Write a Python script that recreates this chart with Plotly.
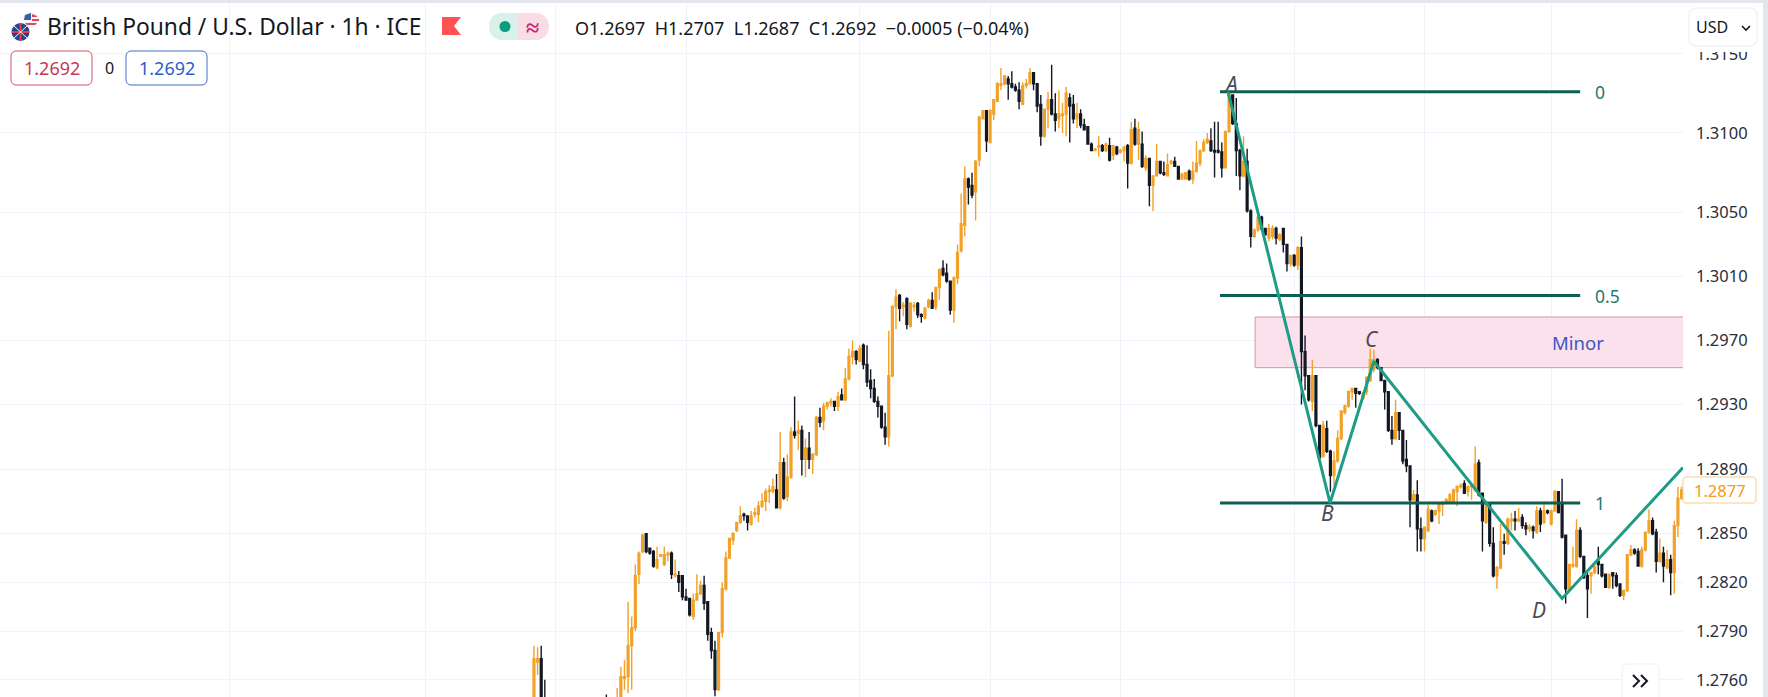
import math
import plotly.graph_objects as go

_ = None
opens = [
 1.2742,1.2771,1.2773,1.2748,_,_,_,_,_,_,_,_,_,_,_,_,_,_,_,_,1.2748,_,_,1.2742,1.2748,1.2761,1.2762,1.2781,1.2792,1.2825,
 1.2839,1.2850,1.2841,1.2839,1.2829,1.2836,1.2831,1.2837,1.2838,1.2824,
 1.2824,1.2824,1.2811,1.2810,1.2799,1.2809,1.2813,1.2818,1.2808,1.2789,
 1.2778,1.2754,1.2789,1.2816,1.2835,1.2846,1.2852,1.2857,1.2862,1.2861,
 1.2856,1.2862,1.2862,1.2867,1.2870,1.2876,1.2876,1.2877,1.2866,1.2894,
 1.2873,1.2885,1.2913,1.2912,1.2914,1.2896,1.2903,1.2896,1.2899,1.2922,
 1.2920,1.2929,1.2931,1.2932,1.2929,1.2936,1.2933,1.2946,1.2960,1.2963,
 1.2957,1.2967,1.2955,1.2945,1.2940,1.2932,1.2929,1.2916,1.2910,1.2948,
 1.2991,1.2998,1.2991,1.2996,1.2979,1.2991,1.2993,1.2986,1.2984,1.2991,
 1.2995,1.2991,1.3003,1.3015,1.3012,1.3007,1.2989,1.3009,1.3026,1.3042,
 1.3071,1.3067,1.3063,1.3083,1.3109,1.3114,1.3094,1.3112,1.3120,1.3130,
 1.3131,1.3134,1.3131,1.3129,1.3127,1.3118,1.3130,1.3131,1.3138,1.3131,
 1.3118,1.3098,1.3115,1.3121,1.3112,1.3109,1.3111,1.3112,1.3122,1.3118,
 1.3109,1.3112,1.3105,1.3104,1.3093,1.3089,1.3091,1.3092,1.3089,1.3092,
 1.3086,1.3091,1.3088,1.3089,1.3092,1.3081,1.3103,1.3093,1.3093,1.3078,
 1.3084,1.3067,1.3073,1.3082,1.3075,1.3073,1.3081,1.3082,1.3079,1.3071,
 1.3071,1.3076,1.3071,1.3076,1.3081,1.3089,1.3094,1.3095,1.3089,1.3089,
 1.3088,1.3078,1.3101,1.3124,1.3106,1.3089,1.3073,1.3082,1.3051,1.3035,
 1.3039,1.3047,1.3040,1.3034,1.3035,1.3040,1.3033,1.3040,1.3030,1.3018,
 1.3023,1.3017,1.3028,1.2963,1.2948,1.2932,1.2948,1.2917,1.2898,1.2915,
 1.2901,1.2886,1.2895,1.2909,1.2925,1.2929,1.2938,1.2940,1.2938,1.2934,
 1.2938,1.2945,1.2952,1.2958,1.2953,1.2945,1.2938,1.2914,1.2909,1.2925,
 1.2914,1.2896,1.2892,1.2871,1.2874,1.2853,1.2847,1.2852,1.2864,1.2862,
 1.2864,1.2868,1.2869,1.2870,1.2870,1.2876,1.2879,1.2881,1.2876,1.2879,
 1.2877,1.2894,1.2875,1.2857,1.2869,1.2844,1.2824,1.2829,1.2845,1.2844,
 1.2858,1.2859,1.2858,1.2860,1.2855,1.2853,1.2854,1.2851,1.2864,1.2857,
 1.2864,1.2856,1.2864,1.2876,1.2869,1.2849,1.2816,1.2830,1.2830,1.2852,
 1.2836,1.2824,1.2824,1.2826,1.2833,1.2831,1.2825,1.2817,1.2826,1.2824,
 1.2819,1.2812,1.2815,1.2837,1.2840,1.2839,1.2830,1.2840,1.2851,1.2858,
 1.2851,1.2833,1.2838,1.2829,1.2834,1.2826,1.2855,1.2872,
]
highs = [
 1.2781,1.2780,1.2781,1.2760,_,_,_,_,_,_,_,_,_,_,_,_,_,_,_,_,1.2751,_,_,1.2755,1.2768,1.2772,1.2808,1.2799,1.2831,1.2839,
 1.2850,1.2850,1.2841,1.2840,1.2842,1.2837,1.2842,1.2839,1.2839,1.2834,
 1.2827,1.2824,1.2816,1.2810,1.2813,1.2825,1.2821,1.2824,1.2808,1.2792,
 1.2784,1.2789,1.2820,1.2839,1.2847,1.2851,1.2857,1.2867,1.2863,1.2861,
 1.2864,1.2866,1.2870,1.2875,1.2878,1.2880,1.2884,1.2887,1.2913,1.2897,
 1.2899,1.2916,1.2935,1.2920,1.2917,1.2909,1.2913,1.2900,1.2923,1.2928,
 1.2931,1.2932,1.2934,1.2932,1.2938,1.2940,1.2953,1.2965,1.2970,1.2964,
 1.2967,1.2968,1.2967,1.2952,1.2946,1.2935,1.2929,1.2925,1.2976,1.2992,
 1.3002,1.2999,1.2994,1.2997,1.2994,1.2994,1.2994,1.2987,1.2991,1.2996,
 1.3000,1.3003,1.3015,1.3020,1.3018,1.3007,1.3010,1.3030,1.3062,1.3079,
 1.3072,1.3075,1.3083,1.3111,1.3114,1.3114,1.3115,1.3121,1.3132,1.3141,
 1.3136,1.3136,1.3139,1.3131,1.3132,1.3132,1.3134,1.3141,1.3138,1.3131,
 1.3124,1.3115,1.3126,1.3143,1.3125,1.3127,1.3119,1.3129,1.3125,1.3124,
 1.3119,1.3115,1.3109,1.3104,1.3094,1.3090,1.3098,1.3093,1.3094,1.3097,
 1.3092,1.3092,1.3090,1.3092,1.3093,1.3107,1.3109,1.3107,1.3101,1.3086,
 1.3084,1.3073,1.3093,1.3082,1.3082,1.3087,1.3083,1.3085,1.3079,1.3075,
 1.3075,1.3077,1.3082,1.3095,1.3089,1.3096,1.3100,1.3103,1.3107,1.3107,
 1.3094,1.3101,1.3126,1.3124,1.3122,1.3090,1.3098,1.3090,1.3052,1.3040,
 1.3049,1.3048,1.3040,1.3043,1.3042,1.3041,1.3037,1.3040,1.3030,1.3023,
 1.3024,1.3029,1.3035,1.2973,1.2948,1.2958,1.2948,1.2917,1.2920,1.2920,
 1.2902,1.2901,1.2914,1.2926,1.2930,1.2939,1.2940,1.2940,1.2938,1.2938,
 1.2947,1.2965,1.2964,1.2959,1.2953,1.2945,1.2938,1.2923,1.2933,1.2925,
 1.2914,1.2908,1.2892,1.2877,1.2883,1.2860,1.2854,1.2868,1.2865,1.2865,
 1.2869,1.2870,1.2872,1.2875,1.2878,1.2880,1.2881,1.2883,1.2880,1.2880,
 1.2904,1.2896,1.2875,1.2869,1.2869,1.2854,1.2830,1.2856,1.2850,1.2860,
 1.2863,1.2864,1.2866,1.2862,1.2857,1.2856,1.2855,1.2867,1.2866,1.2870,
 1.2865,1.2865,1.2877,1.2876,1.2884,1.2849,1.2831,1.2842,1.2859,1.2854,
 1.2836,1.2826,1.2826,1.2830,1.2842,1.2831,1.2825,1.2825,1.2826,1.2826,
 1.2819,1.2815,1.2837,1.2843,1.2841,1.2841,1.2842,1.2851,1.2865,1.2860,
 1.2853,1.2847,1.2842,1.2840,1.2837,1.2858,1.2879,1.2879,
]
lows = [
 1.2740,1.2763,1.2738,1.2735,_,_,_,_,_,_,_,_,_,_,_,_,_,_,_,_,1.2742,_,_,1.2740,1.2745,1.2754,1.2752,1.2754,1.2790,1.2819,
 1.2838,1.2838,1.2837,1.2829,1.2828,1.2836,1.2830,1.2833,1.2822,1.2823,
 1.2814,1.2809,1.2809,1.2799,1.2797,1.2809,1.2812,1.2803,1.2784,1.2773,
 1.2750,1.2753,1.2786,1.2815,1.2835,1.2843,1.2851,1.2856,1.2858,1.2852,
 1.2855,1.2860,1.2857,1.2866,1.2864,1.2869,1.2875,1.2866,1.2865,1.2871,
 1.2870,1.2884,1.2909,1.2902,1.2886,1.2885,1.2890,1.2887,1.2898,1.2916,
 1.2914,1.2927,1.2929,1.2926,1.2926,1.2933,1.2932,1.2945,1.2955,1.2955,
 1.2957,1.2952,1.2941,1.2934,1.2931,1.2922,1.2915,1.2905,1.2904,1.2947,
 1.2977,1.2982,1.2985,1.2977,1.2978,1.2988,1.2984,1.2981,1.2983,1.2990,
 1.2990,1.2989,1.2995,1.3010,1.3006,1.2986,1.2981,1.3005,1.3025,1.3035,
 1.3055,1.3059,1.3045,1.3079,1.3109,1.3088,1.3094,1.3108,1.3120,1.3127,
 1.3130,1.3121,1.3128,1.3126,1.3115,1.3118,1.3128,1.3131,1.3127,1.3113,
 1.3092,1.3097,1.3103,1.3111,1.3101,1.3103,1.3100,1.3098,1.3094,1.3106,
 1.3103,1.3103,1.3102,1.3093,1.3089,1.3089,1.3085,1.3088,1.3088,1.3082,
 1.3083,1.3086,1.3087,1.3082,1.3065,1.3080,1.3092,1.3083,1.3078,1.3076,
 1.3054,1.3051,1.3073,1.3074,1.3073,1.3073,1.3080,1.3079,1.3071,1.3071,
 1.3071,1.3070,1.3068,1.3075,1.3079,1.3088,1.3093,1.3088,1.3072,1.3087,
 1.3072,1.3078,1.3100,1.3105,1.3073,1.3064,1.3072,1.3050,1.3028,1.3034,
 1.3038,1.3039,1.3036,1.3032,1.3033,1.3030,1.3032,1.3025,1.3013,1.3016,
 1.3016,1.3014,1.2930,1.2939,1.2932,1.2926,1.2916,1.2897,1.2897,1.2900,
 1.2876,1.2880,1.2894,1.2908,1.2924,1.2928,1.2933,1.2928,1.2936,1.2933,
 1.2936,1.2944,1.2950,1.2952,1.2945,1.2927,1.2913,1.2905,1.2908,1.2908,
 1.2893,1.2888,1.2854,1.2870,1.2839,1.2839,1.2839,1.2851,1.2857,1.2861,
 1.2856,1.2861,1.2868,1.2869,1.2869,1.2867,1.2878,1.2875,1.2873,1.2871,
 1.2876,1.2873,1.2839,1.2856,1.2842,1.2823,1.2816,1.2828,1.2837,1.2843,
 1.2852,1.2852,1.2857,1.2853,1.2849,1.2851,1.2847,1.2850,1.2851,1.2856,
 1.2862,1.2855,1.2864,1.2863,1.2847,1.2807,1.2815,1.2829,1.2829,1.2835,
 1.2822,1.2798,1.2813,1.2825,1.2825,1.2823,1.2817,1.2816,1.2816,1.2817,
 1.2811,1.2809,1.2814,1.2836,1.2837,1.2830,1.2829,1.2839,1.2850,1.2849,
 1.2826,1.2832,1.2820,1.2828,1.2812,1.2813,1.2848,1.2871,
]
closes = [
 1.2773,1.2773,1.2742,1.2738,_,_,_,_,_,_,_,_,_,_,_,_,_,_,_,_,1.2745,_,_,1.2748,1.2762,1.2762,1.2781,1.2792,1.2824,1.2838,
 1.2849,1.2839,1.2838,1.2830,1.2834,1.2837,1.2837,1.2838,1.2825,1.2825,
 1.2820,1.2811,1.2809,1.2800,1.2809,1.2813,1.2818,1.2807,1.2788,1.2778,
 1.2754,1.2789,1.2816,1.2835,1.2847,1.2850,1.2857,1.2861,1.2861,1.2857,
 1.2861,1.2863,1.2867,1.2870,1.2876,1.2877,1.2879,1.2866,1.2894,1.2872,
 1.2885,1.2913,1.2911,1.2914,1.2896,1.2903,1.2896,1.2899,1.2922,1.2919,
 1.2929,1.2931,1.2932,1.2929,1.2935,1.2933,1.2946,1.2960,1.2963,1.2958,
 1.2965,1.2955,1.2944,1.2940,1.2932,1.2929,1.2916,1.2910,1.2948,1.2991,
 1.2997,1.2990,1.2992,1.2980,1.2993,1.2992,1.2986,1.2985,1.2990,1.2995,
 1.2990,1.3003,1.3014,1.3011,1.3007,1.2989,1.3009,1.3025,1.3043,1.3071,
 1.3066,1.3061,1.3082,1.3110,1.3114,1.3095,1.3114,1.3121,1.3131,1.3131,
 1.3136,1.3131,1.3129,1.3127,1.3120,1.3130,1.3131,1.3138,1.3131,1.3117,
 1.3098,1.3115,1.3121,1.3112,1.3108,1.3112,1.3112,1.3125,1.3117,1.3109,
 1.3112,1.3105,1.3102,1.3093,1.3089,1.3090,1.3092,1.3089,1.3093,1.3083,
 1.3092,1.3087,1.3089,1.3091,1.3081,1.3102,1.3093,1.3102,1.3079,1.3084,
 1.3067,1.3073,1.3082,1.3075,1.3074,1.3080,1.3082,1.3079,1.3071,1.3074,
 1.3075,1.3071,1.3076,1.3081,1.3089,1.3094,1.3096,1.3089,1.3088,1.3088,
 1.3078,1.3101,1.3125,1.3106,1.3089,1.3073,1.3082,1.3051,1.3035,1.3039,
 1.3047,1.3040,1.3036,1.3040,1.3040,1.3034,1.3036,1.3030,1.3018,1.3023,
 1.3017,1.3028,1.2963,1.2948,1.2933,1.2948,1.2917,1.2897,1.2917,1.2901,
 1.2886,1.2895,1.2909,1.2926,1.2929,1.2938,1.2940,1.2937,1.2937,1.2937,
 1.2947,1.2958,1.2958,1.2953,1.2945,1.2938,1.2914,1.2909,1.2925,1.2914,
 1.2895,1.2892,1.2871,1.2874,1.2853,1.2847,1.2854,1.2865,1.2858,1.2864,
 1.2869,1.2869,1.2871,1.2874,1.2877,1.2879,1.2880,1.2875,1.2879,1.2880,
 1.2893,1.2874,1.2858,1.2869,1.2844,1.2824,1.2829,1.2845,1.2844,1.2859,
 1.2859,1.2858,1.2859,1.2855,1.2853,1.2854,1.2852,1.2864,1.2856,1.2864,
 1.2863,1.2864,1.2876,1.2863,1.2848,1.2816,1.2831,1.2831,1.2852,1.2836,
 1.2823,1.2816,1.2826,1.2830,1.2831,1.2824,1.2817,1.2825,1.2824,1.2818,
 1.2812,1.2815,1.2837,1.2840,1.2838,1.2830,1.2840,1.2851,1.2858,1.2850,
 1.2833,1.2838,1.2830,1.2834,1.2826,1.2855,1.2872,1.2877,
]
assert len(opens) == len(highs) == len(lows) == len(closes) == 318
bars = list(range(len(opens)))

price_ticks = [1.3150, 1.3100, 1.3050, 1.3010, 1.2970, 1.2930, 1.2890, 1.2850, 1.2820, 1.2790, 1.2760]
price_labels = ["1.3150", "1.3100", "1.3050", "1.3010", "1.2970", "1.2930", "1.2890", "1.2850", "1.2820", "1.2790", "1.2760"]
time_grid = [-84, -30, 6, 42, 90, 126, 162, 210, 246, 281]

wave_x = [191.7, 219.9, 232, 284, 317.4]
wave_y = [1.3126, 1.2869, 1.2957, 1.2810, 1.2891]
wave_labels = ["A", "B", "C", "D"]
wave_label_x = [192.5, 219.3, 231.5, 277.5]
wave_label_y = [1.3131, 1.2863, 1.2971, 1.2803]

fib_levels = [1.3126, 1.2998, 1.2869]
fib_names = ["0", "0.5", "1"]
fib_x = [189.5, 289]
zone_x = [199.2, 318]
zone_y = [1.2953, 1.29846]

AMBER, INK, GRID = "#F2A129", "#131722", "#F0F3FA"
W, H = 1768, 697
FONT = "Noto Sans"
px, py = (lambda v: v / W), (lambda v: 1 - v / H)


def path(points, close=True):
    s = "M " + " L ".join(f"{px(a):.5f} {py(b):.5f}" for a, b in points)
    return s + (" Z" if close else "")


def round_box(x0, y0, x1, y1, r=5):
    k = 0.45 * r
    return (f"M {px(x0+r):.5f} {py(y0):.5f} L {px(x1-r):.5f} {py(y0):.5f} "
            f"C {px(x1-k):.5f} {py(y0):.5f} {px(x1):.5f} {py(y0+k):.5f} {px(x1):.5f} {py(y0+r):.5f} "
            f"L {px(x1):.5f} {py(y1-r):.5f} "
            f"C {px(x1):.5f} {py(y1-k):.5f} {px(x1-k):.5f} {py(y1):.5f} {px(x1-r):.5f} {py(y1):.5f} "
            f"L {px(x0+r):.5f} {py(y1):.5f} "
            f"C {px(x0+k):.5f} {py(y1):.5f} {px(x0):.5f} {py(y1-k):.5f} {px(x0):.5f} {py(y1-r):.5f} "
            f"L {px(x0):.5f} {py(y0+r):.5f} "
            f"C {px(x0):.5f} {py(y0+k):.5f} {px(x0+k):.5f} {py(y0):.5f} {px(x0+r):.5f} {py(y0):.5f} Z")


def sh_path(d, fill="rgba(0,0,0,0)", line=None, width=1):
    return dict(type="path", xref="paper", yref="paper", path=d, fillcolor=fill, layer="above",
                line=dict(color=line or "rgba(0,0,0,0)", width=width if line else 0))


def sh_circle(cx, cy, r, fill):
    return dict(type="circle", xref="paper", yref="paper", layer="above", fillcolor=fill, line=dict(width=0),
                x0=px(cx - r), x1=px(cx + r), y0=py(cy + r), y1=py(cy - r))


def label(text, x, y, size=16, color=INK, anchor="left", **kw):
    return dict(text=text, x=px(x), y=py(y), xref="paper", yref="paper", xanchor=anchor, yanchor="middle",
                showarrow=False, font=dict(family=FONT, size=size, color=color), **kw)


fig = go.Figure()
fig.add_trace(go.Candlestick(
    x=bars, open=opens, high=highs, low=lows, close=closes, whiskerwidth=0,
    increasing=dict(line=dict(color=AMBER, width=1.4), fillcolor=AMBER),
    decreasing=dict(line=dict(color=INK, width=1.4), fillcolor=INK),
    hoverinfo="skip", showlegend=False))
for lv in fib_levels:
    fig.add_trace(go.Scatter(x=fib_x, y=[lv, lv], mode="lines", line=dict(color="#0F5F50", width=3),
                             hoverinfo="skip", showlegend=False))
fig.add_trace(go.Scatter(x=wave_x, y=wave_y, mode="lines", line=dict(color="#1F9C85", width=3),
                         hoverinfo="skip", showlegend=False))

shapes = [
    dict(type="rect", xref="x", yref="y", layer="between", x0=zone_x[0], x1=zone_x[1], y0=zone_y[0], y1=zone_y[1],
         fillcolor="#FBE1EB", line=dict(color="#D892AE", width=1)),
    # window frame
    dict(type="rect", xref="paper", yref="paper", layer="above", x0=0, x1=1, y0=py(3), y1=1,
         fillcolor="#E3E6EE", line=dict(width=0)),
    dict(type="rect", xref="paper", yref="paper", layer="above", x0=px(1763), x1=1, y0=0, y1=1,
         fillcolor="#E3E6EE", line=dict(width=0)),
    # currency button, which hides the top of the first price label
    dict(type="rect", xref="paper", yref="paper", layer="above", x0=px(1686), x1=px(1760), y0=py(52), y1=py(30),
         fillcolor="#FFFFFF", line=dict(width=0)),
    sh_path(round_box(1689, 8, 1757, 46, 7), "#FFFFFF", "#E9EBF1", 1),
    sh_path(path([(1742, 26), (1746, 30), (1750, 26)], False), line="#131722", width=1.6),
    # last price tag
    sh_path(round_box(1683, 477, 1756, 503, 3), "#FFFFFF", "#F7CC8A", 1),
    # scroll button
    sh_path(round_box(1622, 664, 1659, 704, 5), "#FFFFFF", "#EEF0F4", 1),
    sh_path(path([(1633, 675), (1639, 681), (1633, 687)], False), line="#131722", width=2),
    sh_path(path([(1641, 675), (1647, 681), (1641, 687)], False), line="#131722", width=2),
    # market status flag and pill
    sh_path(path([(442, 17), (461, 17), (454, 26), (461, 35), (442, 35)]), "#FF5252"),
    sh_path(round_box(489, 13, 549, 40, 13), "#F9DCE6"),
    sh_path(round_box(489, 13, 530, 40, 13), "#D8F1EB"),
    sh_path(path([(518, 13), (531, 13), (531, 40), (518, 40)]), "#F9DCE6"),
    sh_path(path([(515, 13), (518, 13), (518, 40), (515, 40)]), "#D8F1EB"),
    sh_circle(505, 26.5, 5.5, "#0E9B80"),
    # quote boxes
    sh_path(round_box(11, 51, 92, 85, 5), "#FFFFFF", "#D0566A", 1),
    sh_path(round_box(126, 51, 207, 85, 5), "#FFFFFF", "#3F6FC4", 1),
    # symbol flags
    sh_circle(31, 20, 8, "#F4F5F8"),
    sh_path(path([(25, 15), (31, 13), (31, 20), (24, 20)]), "#3C5BA9"),
    sh_path(path([(32, 14), (37, 16), (37, 17), (32, 17)]), "#E0475A"),
    sh_path(path([(32, 19), (39, 19), (39, 21), (32, 21)]), "#E0475A"),
    sh_path(path([(25, 23), (37, 23), (35, 25), (27, 25)]), "#E0475A"),
    sh_circle(20.5, 32, 9, "#27458F"),
    sh_path(path([(12, 31), (29, 31), (29, 33), (12, 33)]), "#E23B4A"),
    sh_path(path([(19.5, 23), (21.5, 23), (21.5, 41), (19.5, 41)]), "#E23B4A"),
    sh_path(path([(14, 26), (27, 38)], False), line="#F4F5F8", width=1),
    sh_path(path([(27, 26), (14, 38)], False), line="#F4F5F8", width=1),
]

annotations = [
    label("British Pound / U.S. Dollar · 1h · ICE", 45, 27, 22.8),
    label("<b>≈</b>", 532, 26, 24, "#C9266B", "center"),
    label("O1.2697  H1.2707  L1.2687  C1.2692  −0.0005 (−0.04%)", 573, 28, 18),
    label("1.2692", 51.5, 68, 18, "#C8394F", "center"),
    label("0", 109, 68, 16, INK, "center"),
    label("1.2692", 166.5, 68, 18, "#2B5FC7", "center"),
    label("USD", 1694, 27, 16),
    label("1.2877", 1720, 490, 16.5, "#F59A23", "center"),
]
for name, lv in zip(fib_names, fib_levels):
    annotations.append(dict(text=name, x=292.5, y=math.log10(lv), xref="x", yref="y", xanchor="left", yanchor="middle",
                            showarrow=False, font=dict(family=FONT, size=17.5, color="#1E7A68")))
for t, a, b in zip(wave_labels, wave_label_x, wave_label_y):
    annotations.append(dict(text=f"<i>{t}</i>", x=a, y=math.log10(b), xref="x", yref="y", showarrow=False,
                            font=dict(family=FONT, size=21, color="#4B4B57")))
annotations.append(dict(text="Minor", x=288.5, y=math.log10(1.29685), xref="x", yref="y", showarrow=False,
                        font=dict(family=FONT, size=18.5, color="#3B55C6")))

fig.update_layout(
    width=W, height=H, margin=dict(l=0, r=0, t=0, b=0), autosize=False,
    paper_bgcolor="#FFFFFF", plot_bgcolor="#FFFFFF", showlegend=False, hovermode=False,
    shapes=shapes, annotations=annotations,
    xaxis=dict(domain=[0, 1683 / W], range=[-147.5, 317.4], tickmode="array", tickvals=time_grid,
               showticklabels=False, ticks="", showgrid=True, gridcolor=GRID, gridwidth=1, zeroline=False,
               rangeslider=dict(visible=False), showline=False),
    yaxis=dict(type="log", side="right", range=[0.105493, 0.120048], tickmode="array",
               tickvals=price_ticks, ticktext=price_labels, ticks="", showgrid=True, gridcolor=GRID, gridwidth=1,
               zeroline=False, showline=False, ticklabelstandoff=12,
               tickfont=dict(family=FONT, size=16.5, color="#2A2E39")),
)
fig.write_html("out.html", config=dict(displayModeBar=False, staticPlot=True),
               post_script="document.body.style.margin='0';document.body.style.overflow='hidden';")
